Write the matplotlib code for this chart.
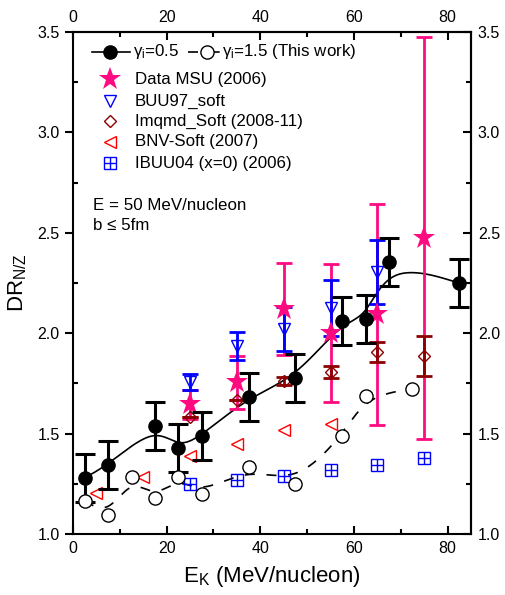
import numpy as np
import matplotlib
matplotlib.use("Agg")
import matplotlib.pyplot as plt

plt.rcParams['font.family'] = ['Liberation Sans', 'DejaVu Sans']
plt.rcParams['mathtext.default'] = 'regular'

# this work, gamma_i = 0.5 (filled circles)
ek_05 = [2.5, 7.5, 17.5, 22.5, 27.5, 37.5, 47.5, 57.5, 62.5, 67.5, 82.5]
dr_05 = [1.28, 1.344, 1.538, 1.427, 1.49, 1.684, 1.775, 2.06, 2.07, 2.355, 2.25]
err_05 = [0.12] * len(ek_05)

# this work, gamma_i = 1.5 (open circles)
ek_15 = [2.5, 7.5, 12.5, 17.5, 22.5, 27.5, 37.5, 47.5, 57.5, 62.5, 72.5]
dr_15 = [1.166, 1.095, 1.282, 1.178, 1.282, 1.2, 1.332, 1.249, 1.488, 1.687, 1.722]

# Data MSU (2006)
ek_msu = [25, 35, 45, 55, 65, 75]
dr_msu = [1.645, 1.755, 2.12, 2.0, 2.095, 2.475]
err_msu = [0.07, 0.13, 0.23, 0.345, 0.55, 1.0]

# BUU97_soft
ek_buu = [25, 35, 45, 55, 65]
dr_buu = [1.755, 1.935, 2.02, 2.125, 2.305]
err_buu = [0.04, 0.07, 0.11, 0.14, 0.16]

# Imqmd_Soft (2008-11)
ek_imq = [25, 35, 45, 55, 65, 75]
dr_imq = [1.584, 1.667, 1.763, 1.808, 1.908, 1.886]
err_imq = [0.0, 0.0, 0.02, 0.03, 0.05, 0.10]

# BNV-Soft (2007)
ek_bnv = [5, 15, 25, 35, 45, 55]
dr_bnv = [1.206, 1.286, 1.388, 1.448, 1.516, 1.548]

# IBUU04 (x=0) (2006)
ek_ibuu = [25, 35, 45, 55, 65, 75]
dr_ibuu = [1.249, 1.269, 1.287, 1.319, 1.344, 1.377]


def bspline(xs, ys, n=40):
    # cubic B-spline with the points as control points, clamped at the ends
    p = np.column_stack([xs, ys]).astype(float)
    p = np.vstack([p[:1], p[:1], p, p[-1:], p[-1:]])
    t = np.linspace(0, 1, n)[:, None]
    b0 = (1 - t) ** 3 / 6
    b1 = (3 * t ** 3 - 6 * t ** 2 + 4) / 6
    b2 = (-3 * t ** 3 + 3 * t ** 2 + 3 * t + 1) / 6
    b3 = t ** 3 / 6
    segs = []
    for i in range(len(p) - 3):
        segs.append(b0 * p[i] + b1 * p[i + 1] + b2 * p[i + 2] + b3 * p[i + 3])
    c = np.vstack(segs)
    return c[:, 0], c[:, 1]


pink = '#FF0A80'
blue = '#0000FF'
dred = '#8B0000'
red = '#FF0000'

fig = plt.figure(figsize=(5.05, 5.95), dpi=100)
ax = fig.add_axes([0.1446, 0.1025, 0.788, 0.8437])

# smooth lines
sx, sy = bspline(ek_05, dr_05)
ax.plot(sx, sy, color='black', lw=1.2, zorder=3)
sx, sy = bspline(ek_15, dr_15)
ax.plot(sx, sy, color='black', lw=1.2, ls=(0, (6, 7)), zorder=3)

# other models / data
ax.errorbar(ek_msu, dr_msu, yerr=err_msu, fmt='none', ecolor=pink, elinewidth=2,
            capsize=6, capthick=2, zorder=4)
ax.errorbar(ek_buu, dr_buu, yerr=err_buu, fmt='none', ecolor=blue, elinewidth=2,
            capsize=6, capthick=2, zorder=5)
ax.errorbar(ek_imq, dr_imq, yerr=err_imq, fmt='none', ecolor=dred, elinewidth=2,
            capsize=6, capthick=2, zorder=5)
ax.plot(ek_imq, dr_imq, 'D', mfc='none', mec=dred, ms=6.5, mew=1, zorder=6)
ax.plot(ek_buu, dr_buu, 'v', mfc='none', mec=blue, ms=8, mew=1, zorder=6)
ax.plot(ek_bnv, dr_bnv, '<', mfc='none', mec=red, ms=9, mew=1, zorder=6)
ax.plot(ek_ibuu, dr_ibuu, 's', mfc='none', mec=blue, ms=8.5, mew=1, zorder=6)
ax.plot(ek_ibuu, dr_ibuu, '+', color=blue, ms=8.5, mew=1, zorder=6)
ax.plot(ek_msu, dr_msu, '*', color=pink, ms=17, mew=0, zorder=7)

# this work
ax.errorbar(ek_05, dr_05, yerr=err_05, fmt='o', color='black', ms=9.5, elinewidth=2.2,
            capsize=7, capthick=2.2, zorder=8)
ax.plot(ek_15, dr_15, 'o', mfc='white', mec='black', ms=9.5, mew=1, zorder=8)

ax.set_xlim(0, 85)
ax.set_ylim(1.0, 3.5)
ax.set_xticks([0, 20, 40, 60, 80])
ax.set_xticks([10, 30, 50, 70], minor=True)
ax.set_yticks([1.0, 1.5, 2.0, 2.5, 3.0, 3.5])
ax.set_yticks([1.25, 1.75, 2.25, 2.75, 3.25], minor=True)
for s in ax.spines.values():
    s.set_linewidth(1.5)
ax.tick_params(axis='x', which='both', direction='in', labelsize=11.5, width=1.5, pad=5)
ax.tick_params(axis='x', which='major', length=6)
ax.tick_params(axis='x', which='minor', length=3.5)
ax.tick_params(axis='y', which='major', direction='out', length=6, width=1.5, labelsize=11.5)
ax.tick_params(axis='y', which='minor', direction='in', length=3.5, width=1.5)

top = ax.secondary_xaxis('top')
top.set_xticks([0, 20, 40, 60, 80])
top.set_xticks([10, 30, 50, 70], minor=True)
top.tick_params(which='both', direction='in', labelsize=11.5, width=1.5, pad=5)
top.tick_params(which='major', length=6)
top.tick_params(which='minor', length=3.5)
right = ax.secondary_yaxis('right')
right.set_yticks([1.0, 1.5, 2.0, 2.5, 3.0, 3.5])
right.set_yticks([1.25, 1.75, 2.25, 2.75, 3.25], minor=True)
right.tick_params(which='both', direction='in', labelsize=11.5, width=1.5, pad=5)
right.tick_params(which='major', length=6)
right.tick_params(which='minor', length=3.5)
for sa in (top, right):
    for s in sa.spines.values():
        s.set_linewidth(1.5)

ax.set_xlabel(r'E$_\mathregular{K}$ (MeV/nucleon)', fontsize=16, labelpad=6)
ax.set_ylabel(r'DR$_\mathregular{N/Z}$', fontsize=16, labelpad=6)

# legend drawn by hand
tr = ax.transAxes
fs = 12.2
ax.plot([0.047, 0.143], [0.961, 0.961], color='black', lw=1.2, transform=tr, clip_on=False)
ax.plot([0.093], [0.961], 'o', color='black', ms=9.5, transform=tr, clip_on=False)
ax.text(0.1515, 0.961, r'γ$_\mathregular{i}$=0.5', transform=tr, fontsize=fs, va='center')
ax.plot([0.289, 0.369], [0.961, 0.961], color='black', lw=1.2, ls=(0, (6, 7)),
        transform=tr, clip_on=False)
ax.plot([0.336], [0.961], 'o', mfc='white', mec='black', ms=9.5, mew=1, transform=tr, clip_on=False)
ax.text(0.3736, 0.961, r'γ$_\mathregular{i}$=1.5 (This work)', transform=tr, fontsize=fs, va='center')

rows = [
    (0.906, dict(marker='*', color=pink, ms=17, mew=0), 'Data MSU (2006)'),
    (0.8625, dict(marker='v', mfc='none', mec=blue, ms=8, mew=1), 'BUU97_soft'),
    (0.8227, dict(marker='D', mfc='none', mec=dred, ms=6.5, mew=1), 'Imqmd_Soft (2008-11)'),
    (0.7815, dict(marker='<', mfc='none', mec=red, ms=9, mew=1), 'BNV-Soft (2007)'),
    (0.7384, dict(marker='s', mfc='none', mec=blue, ms=8.5, mew=1), 'IBUU04 (x=0) (2006)'),
]
for yy, style, label in rows:
    ax.plot([0.093], [yy], ls='none', transform=tr, clip_on=False, **style)
    ax.text(0.156, yy, label, transform=tr, fontsize=fs, va='center')
ax.plot([0.093], [0.7384], '+', color=blue, ms=8.5, mew=1, transform=tr, clip_on=False)

ax.text(0.0495, 0.655, 'E = 50 MeV/nucleon', transform=tr, fontsize=fs, va='center')
ax.text(0.0495, 0.6155, 'b ≤ 5fm', transform=tr, fontsize=fs, va='center')

fig.savefig('out.png', dpi=100)
